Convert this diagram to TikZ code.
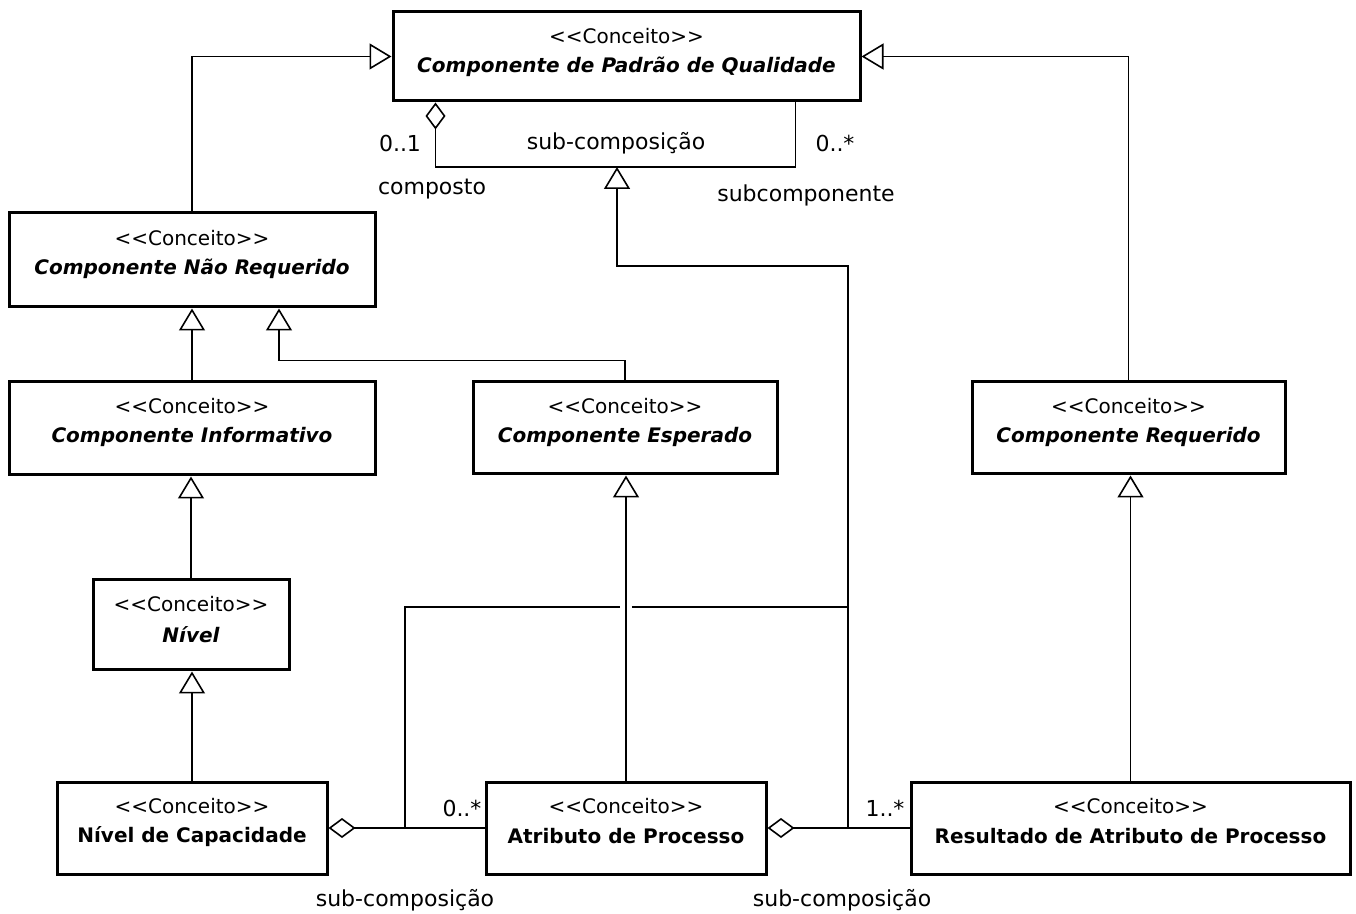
\documentclass[tikz,border=0pt]{standalone}
\usepackage{fontspec}
\setmainfont{DejaVu Sans}
\usetikzlibrary{arrows.meta,calc}
\newcommand\stereoconceito{\textless\kern0pt\textless\kern0pt Conceito\kern0pt\textgreater\kern0pt\textgreater}
\begin{document}
\begin{tikzpicture}[x=0.5pt,y=-0.5pt,
  cls/.style={draw,line width=1.5pt,fill=white,inner sep=0pt},
  st/.style={font=\fontsize{10}{12}\selectfont,inner sep=0pt},
  nm/.style={font=\fontsize{10}{12}\selectfont\bfseries,inner sep=0pt},
  anm/.style={font=\fontsize{10}{12}\selectfont\bfseries\itshape,inner sep=0pt},
  lbl/.style={font=\fontsize{11}{13}\selectfont,inner sep=0pt},
  conn/.style={line width=0.8pt},
  gen/.style={conn,-{Triangle[open,length=11pt,width=13pt]}},
  agg/.style={conn,{Diamond[open,length=13.5pt,width=10pt]}-},
]
\useasboundingbox (0,0) rectangle (1356,914);

% class boxes
\node[cls,minimum width=233.5pt,minimum height=44.5pt] (cpq) at (626.5,56.5) {};
\node[cls,minimum width=183pt,minimum height=47pt] (cnr) at (192,260) {};
\node[cls,minimum width=183pt,minimum height=46.5pt] (ci) at (192,428.5) {};
\node[cls,minimum width=152pt,minimum height=46pt] (ce) at (625,428) {};
\node[cls,minimum width=156.5pt,minimum height=46pt] (cr) at (1128.5,428) {};
\node[cls,minimum width=98pt,minimum height=45pt] (niv) at (191,625) {};
\node[cls,minimum width=135pt,minimum height=46pt] (nc) at (192,828) {};
\node[cls,minimum width=140pt,minimum height=46pt] (ap) at (626,828) {};
\node[cls,minimum width=219.5pt,minimum height=46pt] (rap) at (1130.5,828) {};

% texts
\node[st] (cpqS) at ($(cpq.north)+(0,26)$) {\stereoconceito};
\node[anm] (cpqN) at ($(cpq.north)+(0,56)$) {Componente de Padrão de Qualidade};
\node[st] (cnrS) at ($(cnr.north)+(0,27)$) {\stereoconceito};
\node[anm] (cnrN) at ($(cnr.north)+(0,57)$) {Componente Não Requerido};
\node[st] (ciS) at ($(ci.north)+(0,26)$) {\stereoconceito};
\node[anm] (ciN) at ($(ci.north)+(0,56)$) {Componente Informativo};
\node[st] (ceS) at ($(ce.north)+(0,26)$) {\stereoconceito};
\node[anm] (ceN) at ($(ce.north)+(0,56)$) {Componente Esperado};
\node[st] (crS) at ($(cr.north)+(0,26)$) {\stereoconceito};
\node[anm] (crN) at ($(cr.north)+(0,56)$) {Componente Requerido};
\node[st] (nivS) at ($(niv.north)+(0,26)$) {\stereoconceito};
\node[anm] (nivN) at ($(niv.north)+(0,56)$) {Nível};
\node[st] (ncS) at ($(nc.north)+(0,26)$) {\stereoconceito};
\node[nm] (ncN) at ($(nc.north)+(0,56)$) {Nível de Capacidade};
\node[st] (apS) at ($(ap.north)+(0,26)$) {\stereoconceito};
\node[nm] (apN) at ($(ap.north)+(0,56)$) {Atributo de Processo};
\node[st] (rapS) at ($(rap.north)+(0,26)$) {\stereoconceito};
\node[nm] (rapN) at ($(rap.north)+(0,56)$) {Resultado de Atributo de Processo};

% generalizations
\draw[gen] (cnr.north) |- (cpq.west);
\draw[gen] (cr.north) |- (cpq.east);
\draw[gen] (ci.north) -- (cnr.south);
\draw[gen] (ce.north) -- ++(0,-20) -| ($(cnr.south)+(87,0)$);
\draw[gen] (niv.north) -- (niv.north |- ci.south);
\draw[gen] (nc.north) -- (nc.north |- niv.south);
\draw[gen] (ap.north) -- (ap.north |- ce.south);
\draw[gen] (rap.north) -- (rap.north |- cr.south);

% self association
\coordinate (sa) at ($(cpq.south west)+(44,0)$);
\coordinate (sb) at ($(cpq.south west)+(404,0)$);
\coordinate (sm) at (617,167);
\draw[agg] (sa) -- (sa |- sm) -- (sb |- sm) -- (sb);

% lower associations
\draw[agg] (nc.east) -- (ap.west);
\draw[agg] (ap.east) -- (rap.west);
\coordinate (ja) at ($(nc.east)!0.49!(ap.west)$);
\coordinate (jb) at ($(ap.east)!0.566!(rap.west)$);
\draw[gen] (jb) -- ++(0,-562) -| (sm);
\draw[conn] (ja) -- ++(0,-221) -- ++(215,0);
\draw[conn] ($(ja)+(227,-221)$) -- ($(jb)+(0,-221)$);

% labels
\node[lbl] (m1) at (400,143) {0..1};
\node[lbl] (r1) at (432,189) {composto};
\node[lbl] (a1) at (616,143) {sub-composição};
\node[lbl] (m2) at (835,143) {0..*};
\node[lbl] (r2) at (806,195) {subcomponente};
\node[lbl] (m3) at (462,808) {0..*};
\node[lbl] (a2) at (405,900) {sub-composição};
\node[lbl] (m4) at (885,808) {1..*};
\node[lbl] (a3) at (842,900) {sub-composição};
\end{tikzpicture}
\end{document}
